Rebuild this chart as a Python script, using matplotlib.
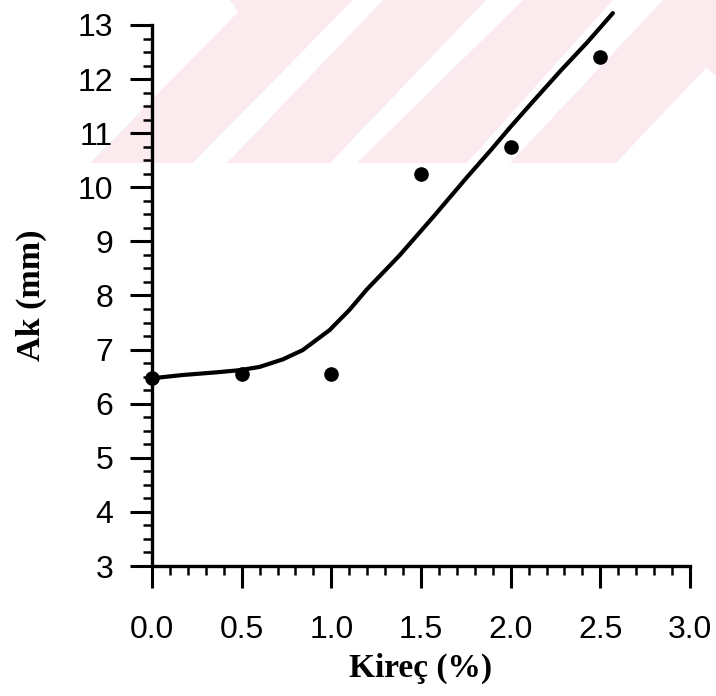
import numpy as np
import matplotlib
matplotlib.use('Agg')
import matplotlib.pyplot as plt
from matplotlib.patches import Polygon
from matplotlib.ticker import MultipleLocator, FormatStrFormatter

# measured points
kirec = [0.0, 0.5, 1.0, 1.5, 2.0, 2.5]
ak = [6.47, 6.55, 6.55, 10.25, 10.74, 12.4]

# hand-drawn trend curve
curve_x = [0.0, 0.17, 0.36, 0.49, 0.60, 0.73, 0.84, 0.99, 1.10, 1.20, 1.27, 1.38,
           1.57, 1.76, 1.89, 2.00, 2.12, 2.28, 2.43, 2.57]
curve_y = [6.47, 6.53, 6.58, 6.62, 6.68, 6.82, 6.99, 7.36, 7.73, 8.12, 8.36, 8.74,
           9.46, 10.20, 10.69, 11.12, 11.57, 12.16, 12.69, 13.22]

x_ticks = [0.0, 0.5, 1.0, 1.5, 2.0, 2.5, 3.0]
y_ticks = list(range(3, 14))

W, H = 716, 696
fig = plt.figure(figsize=(W / 100, H / 100), dpi=100)

# faint background stripes (pixel outlines, top-left origin)
stripes = [
    [(230, 0), (353, 0), (193, 163), (90, 163), (238, 12)],
    [(383, 0), (486, 0), (330, 163), (227, 163)],
    [(523, 0), (613, 0), (467, 163), (357, 163)],
    [(663, 0), (716, 0), (716, 76), (706, 68), (616, 163), (510, 163)],
]
for s in stripes:
    pts = [(px / W, 1 - py / H) for px, py in s]
    fig.patches.append(Polygon(pts, closed=True, transform=fig.transFigure,
                               facecolor='#fcebee', edgecolor='none', zorder=-1))

ax = fig.add_axes([152 / W, 1 - 566 / H, (690 - 152) / W, (566 - 25) / H])
ax.patch.set_visible(False)

ax.plot(curve_x, curve_y, color='black', linewidth=3.0, solid_capstyle='round',
        solid_joinstyle='round', clip_on=False, zorder=3)
ax.plot(kirec, ak, 'o', color='black', markersize=9.5, clip_on=False, zorder=4)

ax.set_xlim(0, 3.0)
ax.set_ylim(3, 13)
ax.set_xticks(x_ticks)
ax.set_yticks(y_ticks)
ax.xaxis.set_major_formatter(FormatStrFormatter('%.1f'))
ax.xaxis.set_minor_locator(MultipleLocator(0.1))
ax.yaxis.set_minor_locator(MultipleLocator(0.25))

for side in ['top', 'right']:
    ax.spines[side].set_visible(False)
for side in ['left', 'bottom']:
    ax.spines[side].set_linewidth(2.4)

ax.tick_params(which='major', direction='out', length=16, width=2.2, pad=12,
               labelsize=23, labelfontfamily='Liberation Sans')
ax.tick_params(which='minor', direction='out', length=6.5, width=1.8)
ax.tick_params(axis='x', which='major', pad=19)

ax.set_xlabel('Kireç (%)', fontsize=24, fontweight='bold', family='Liberation Serif', labelpad=6)
ax.set_ylabel('Ak (mm)', fontsize=24.5, fontweight='bold', family='Liberation Serif', labelpad=22)

fig.savefig('out.png', dpi=100)
